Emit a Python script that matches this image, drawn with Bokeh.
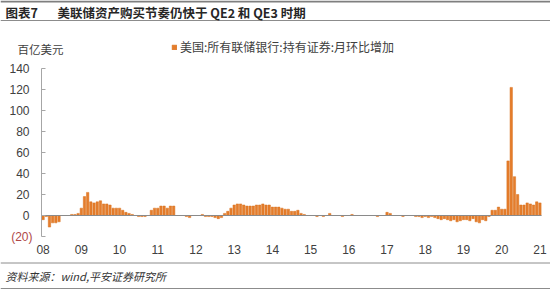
from bokeh.plotting import figure
from bokeh.models import (ColumnDataSource, FixedTicker, Label, Legend, LegendItem,
                          LinearAxis, Range1d, Span)
from bokeh.embed import file_html
from bokeh.resources import INLINE

# ---------------- data (百亿美元, monthly change, Jan 2008 - Jan 2021) ----------------
year_labels = ["08", "09", "10", "11", "12", "13", "14", "15", "16", "17", "18", "19", "20", "21"]
v2008 = [-4, -1, -11, -7, -7, -6, 0, 0, 0, 1, 1, 2]
v2009 = [7, 18, 22, 13, 12, 13, 14, 11, 11, 10, 7, 7]
v2010 = [7, 5, 3, 2, 1, 0, -1, -1, -1, 0, 5, 7]
v2011 = [7, 9, 9, 7, 9, 9, 0, 0, 0, -1, -2, 0]
v2012 = [0, 0, 1, -1, -1, -1, -2, -3, -2, 2, 4, 7]
v2013 = [10, 11, 11, 10, 9, 9, 9, 10, 10, 11, 10, 10]
v2014 = [8, 8, 8, 7, 6, 6, 4, 4, 5, 2, 1, 0]
v2015 = [0, 0, -1, 0, -1, 0, 2, 0, 0, 0, -1, 0]
v2016 = [0, 1, 0, 0, 0, 0, 0, 0, 0, -1, 0, 0]
v2017 = [3, 2, 0, 0, 0, -1, 0, 0, 0, -1, -1, -2]
v2018 = [-1, -2, -1, -2, -3, -4, -3, -4, -5, -4, -6, -5]
v2019 = [-4, -4, -5, -3, -6, -7, -4, -5, -1, 5, 5, 8]
v2020 = [6, 6, 52, 122, 37, 20, 10, 10, 12, 11, 10, 13]
v2021 = [12]
series_name = "美国:所有联储银行:持有证券:月环比增加"
y_ticks = [-20, 0, 20, 40, 60, 80, 100, 120, 140]

values = (v2008 + v2009 + v2010 + v2011 + v2012 + v2013 + v2014 + v2015 + v2016
          + v2017 + v2018 + v2019 + v2020 + v2021)
months = list(range(len(values)))
src = ColumnDataSource(dict(x=months, v=values))

ORANGE = "#E57D2C"
TXT = "#404040"
CJK = "Noto Sans CJK SC"
LAT = "Liberation Sans"

W, H = 550, 291
PL, PR, PT, PB = 41, 541, 68, 236          # plot-area edges in canvas pixels
X0, X1 = -0.5, len(values) - 0.5
Y0, Y1 = y_ticks[0], y_ticks[-1]


def dx(px):
    return X0 + (px - PL) * (X1 - X0) / (PR - PL)


def dy(py):
    return Y1 - (py - PT) * (Y1 - Y0) / (PB - PT)


p = figure(width=W, height=H, x_range=Range1d(dx(0), dx(W)), y_range=Range1d(dy(H), dy(0)),
           x_axis_type=None, y_axis_type=None, min_border=0,
           toolbar_location=None, output_backend="svg")
p.outline_line_color = None
p.grid.visible = False
p.background_fill_color = "white"
p.border_fill_color = "white"

bars = p.vbar(x="x", top="v", width=0.75, source=src, fill_color=ORANGE,
              line_color="#D9731F", line_width=0.5)

# ---- axes (library axes, fixed at the plot-area edges) ----
yax = LinearAxis(fixed_location=X0, bounds=(Y0, Y1), ticker=FixedTicker(ticks=y_ticks))
yax.major_label_overrides = {-20: " "}
yax.axis_line_color = "#a6a6a6"
yax.major_tick_line_color = "#a6a6a6"
yax.major_tick_in = 4
yax.major_tick_out = 0
yax.minor_tick_line_color = None
yax.major_label_standoff = 12
yax.major_label_text_font = LAT
yax.major_label_text_font_size = "12px"
yax.major_label_text_color = TXT
p.add_layout(yax, "left")

# horizontal axis line crossing at zero (no labels)
zax = LinearAxis(fixed_location=0, bounds=(X0, X1), ticker=FixedTicker(ticks=[]))
zax.axis_line_color = "#8a8a8a"
zax.axis_line_width = 1
zax.major_tick_line_color = None
zax.minor_tick_line_color = None
zax.major_label_text_color = None
p.add_layout(zax, "below")

# category labels at the bottom of the plot area
xax = LinearAxis(fixed_location=Y0, ticker=FixedTicker(ticks=[12 * i for i in range(len(year_labels))]))
xax.major_label_overrides = {12 * i: lab for i, lab in enumerate(year_labels)}
xax.axis_line_color = None
xax.major_tick_line_color = None
xax.minor_tick_line_color = None
xax.major_tick_in = 0
xax.major_tick_out = 0
xax.major_label_standoff = 8
xax.major_label_text_font = LAT
xax.major_label_text_font_size = "12px"
xax.major_label_text_color = TXT
p.add_layout(xax, "below")

p.add_layout(Label(x=dx(32), y=-20, text="(20)", text_align="right", text_baseline="middle",
                   text_font=LAT, text_font_size="12px", text_color="#B04848"))
p.add_layout(Label(x=dx(17), y=dy(48), text="百亿美元", text_baseline="middle",
                   text_font=CJK, text_font_size="11.5px", text_color=TXT))

legend = Legend(items=[LegendItem(label=series_name, renderers=[bars])],
                location=(171, H - 48 - 7), orientation="horizontal",
                border_line_color=None, background_fill_alpha=0, padding=0, margin=0,
                spacing=0, glyph_width=6, glyph_height=6, label_standoff=3,
                label_height=14, label_text_font=CJK, label_text_font_size="12px",
                label_text_color=TXT)
p.add_layout(legend)

# ---- header ----
p.add_layout(Span(location=dy(1), dimension="width", line_color="#7f7f7f", line_width=2))
p.add_layout(Span(location=dy(20), dimension="width", line_color="#8c8c8c", line_width=1))
p.add_layout(Label(x=dx(5), y=dy(11.5), text="图表7", text_font=CJK, text_font_style="bold",
                   text_font_size="12.5px", text_color="#262626", text_baseline="middle"))
p.add_layout(Label(x=dx(57), y=dy(11.5), text="美联储资产购买节奏仍快于 QE2 和 QE3 时期",
                   text_font=CJK, text_font_style="bold", text_font_size="12.5px",
                   text_color="#262626", text_baseline="middle"))

# ---- footer ----
p.add_layout(Span(location=dy(262.5), dimension="width", line_color="#8c8c8c", line_width=1))
p.add_layout(Span(location=dy(288), dimension="width", line_color="#8c8c8c", line_width=1))
p.add_layout(Label(x=dx(5), y=dy(275), text="资料来源：wind,平安证券研究所", text_font=CJK,
                   text_font_style="italic", text_font_size="11px", text_color="#333333",
                   text_baseline="middle"))

open("out.html", "w").write(file_html(p, INLINE))
